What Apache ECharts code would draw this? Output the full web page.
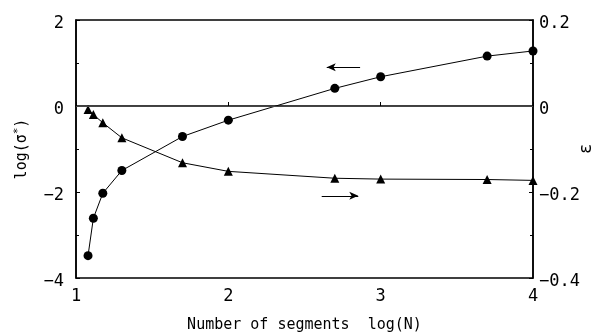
<!DOCTYPE html>
<html>
<head>
<meta charset="utf-8">
<script src="https://cdn.jsdelivr.net/npm/echarts@6/dist/echarts.min.js"></script>
<style>
  html, body { margin: 0; padding: 0; background: #fff; }
  #chart { width: 595px; height: 333px; }
</style>
</head>
<body>
<div id="chart"></div>
<script>
// log(N) for each number of segments
const logN = [1.079, 1.114, 1.176, 1.301, 1.699, 2.0, 2.699, 3.0, 3.699, 4.0];
// log(sigma*) - left axis, circles
const logSigma = [-3.48, -2.61, -2.03, -1.50, -0.71, -0.33, 0.41, 0.68, 1.16, 1.28];
// epsilon - right axis, triangles
const epsilon = [-0.008, -0.020, -0.039, -0.074, -0.132, -0.152, -0.168, -0.170, -0.171, -0.173];

const FONT = '"DejaVu Sans Mono", "Liberation Mono", monospace';
const minus = v => String(v).replace('-', '\u2212');

let myChart = echarts.init(document.getElementById('chart'));

let option = {
    animation: false,
    backgroundColor: '#fff',
    // full box around the plot
    grid: {
        left: 76, right: 62, top: 20, bottom: 55, outerBoundsMode: 'none',
        show: true, borderColor: '#000', borderWidth: 1.5, backgroundColor: 'transparent'
    },
    xAxis: {
        type: 'value',
        min: 1, max: 4, interval: 1,
        name: 'Number of segments  log(N)',
        nameLocation: 'middle',
        nameGap: 40,
        nameTextStyle: { fontFamily: FONT, fontSize: 15, color: '#000' },
        axisLine: { show: true, lineStyle: { color: '#000', width: 1.5 } },
        axisTick: { inside: true, length: 4, lineStyle: { color: '#000' } },
        axisLabel: { fontFamily: FONT, fontSize: 17, color: '#000', margin: 10 },
        splitLine: { show: false }
    },
    yAxis: [{
        type: 'value',
        position: 'left',
        min: -4, max: 2, interval: 2,
        name: '{n|log(σ}{s|*}{n|)}',
        nameLocation: 'middle',
        nameRotate: 90,
        nameGap: 44,
        nameTextStyle: {
            rich: {
                n: { fontFamily: FONT, fontSize: 15, color: '#000' },
                s: { fontFamily: FONT, fontSize: 11, color: '#000', verticalAlign: 'top', padding: [0, 0, 8, 0] }
            }
        },
        axisLine: { show: true, lineStyle: { color: '#000', width: 1.5 } },
        axisTick: { inside: true, length: 4, lineStyle: { color: '#000' } },
        minorTick: { show: true, splitNumber: 2, length: 3, lineStyle: { color: '#000' } },
        axisLabel: {
            fontFamily: FONT, fontSize: 17, color: '#000', margin: 12,
            formatter: minus, verticalAlign: 'top', lineHeight: 8
        },
        splitLine: { show: false }
    }, {
        type: 'value',
        position: 'right',
        min: -0.4, max: 0.2, interval: 0.2,
        name: 'ε',
        nameLocation: 'middle',
        nameRotate: 90,
        nameGap: 45,
        nameMoveOverlap: false,
        nameTextStyle: { fontFamily: FONT, fontSize: 17, color: '#000' },
        axisLine: { show: true, lineStyle: { color: '#000', width: 1.5 } },
        axisTick: { inside: true, length: 4, lineStyle: { color: '#000' } },
        minorTick: { show: true, splitNumber: 2, length: 3, lineStyle: { color: '#000' } },
        axisLabel: {
            fontFamily: FONT, fontSize: 17, color: '#000', margin: 6,
            verticalAlign: 'top', lineHeight: 8,
            formatter: v => minus(v === 0 ? 0 : v.toFixed(1))
        },
        splitLine: { show: false }
    }],
    series: [{
        name: 'log(σ*)',
        type: 'line',
        yAxisIndex: 0,
        data: logN.map((x, i) => [x, logSigma[i]]),
        symbol: 'circle',
        symbolSize: 9,
        itemStyle: { color: '#000' },
        lineStyle: { color: '#000', width: 1 },
        markLine: {
            silent: true,
            symbol: ['none', 'none'],
            label: { show: false },
            lineStyle: { color: '#000', width: 1, type: 'solid' },
            data: [
                { yAxis: 0, lineStyle: { color: '#444', width: 1 } },
                [{ coord: [2.865, 0.90], symbol: 'none' }, { coord: [2.646, 0.90], symbol: 'arrow', symbolSize: [6, 9] }],
                [{ coord: [2.613, -2.09], symbol: 'none' }, { coord: [2.853, -2.09], symbol: 'arrow', symbolSize: [6, 9] }]
            ]
        }
    }, {
        name: 'ε',
        type: 'line',
        yAxisIndex: 1,
        data: logN.map((x, i) => [x, epsilon[i]]),
        symbol: 'triangle',
        symbolSize: 9,
        itemStyle: { color: '#000' },
        lineStyle: { color: '#000', width: 1 }
    }]
};

myChart.setOption(option);
</script>
</body>
</html>
